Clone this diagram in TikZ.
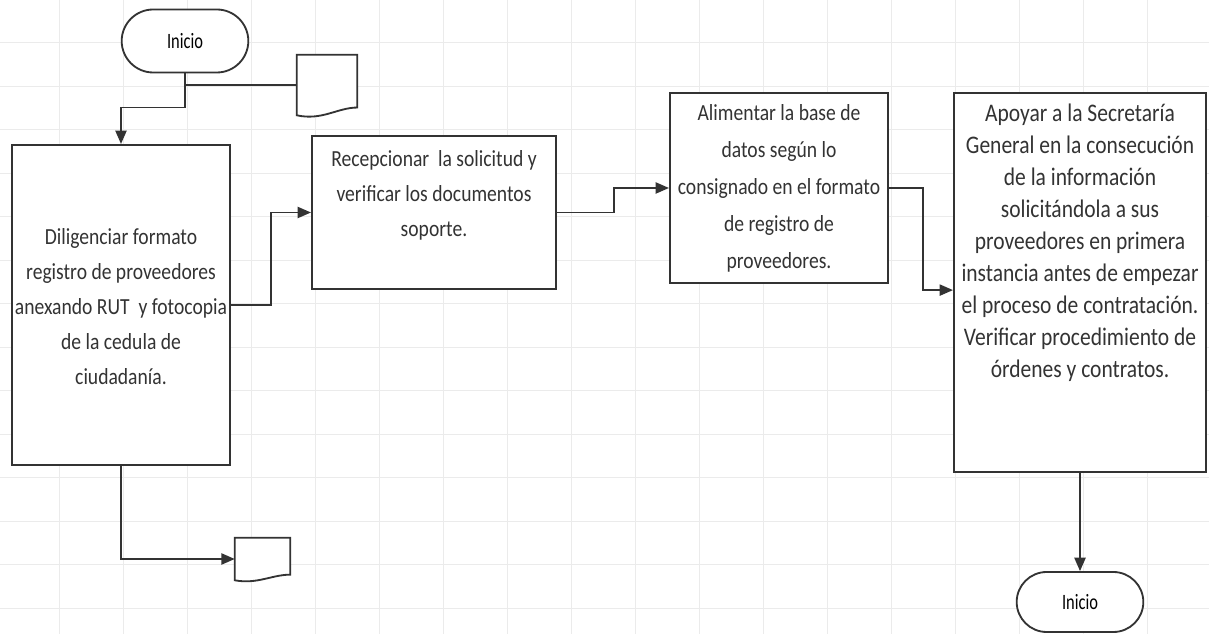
\documentclass[tikz,border=0pt]{standalone}
\usepackage{fontspec}
\setmainfont{Carlito}[FakeStretch=0.85]
\newfontfamily\inifont{Carlito}[FakeStretch=0.75]
\usetikzlibrary{arrows.meta,shapes.misc}
\definecolor{inkgray}{HTML}{333333}
\tikzset{gridline/.style={gray!16, line width=0.6pt},
  proc/.style={draw=inkgray, line width=1.5pt, fill=white, rectangle},
  term/.style={draw=inkgray, line width=1.3pt, fill=white, rounded rectangle, font=\inifont\fontsize{15.6}{18}\selectfont},
  docu/.style={minimum width=#1, inner sep=0pt},
  docline/.style={draw=inkgray, line width=1.3pt, fill=white},
  txt/.style={align=center, text=inkgray},
  conn/.style={draw=inkgray, line width=1.1pt},
  arr/.style={conn, -{Triangle[length=9.5pt,width=8pt]}}}

\begin{document}
\begin{tikzpicture}
  \useasboundingbox (0,0) rectangle (30.225,15.85);
  \fill[white] (0,0) rectangle (30.225,15.85);
  \foreach \k in {0,...,13} \draw[gridline] (0,0.65+1.0875*\k) -- (30.225,0.65+1.0875*\k);
  \foreach \k in {0,...,17} \draw[gridline] (1.475+1.6*\k,0) -- (1.475+1.6*\k,15.85);

  \node[term, minimum width=3.4cm, minimum height=1.575cm] (inicioA) at ( 4.625,14.825) {Inicio};
  \node[term, minimum width=3.4cm, minimum height=1.5cm]   (inicioB) at (27.0,   0.8  ) {Inicio};
  \node[docu=1.5cm,   minimum height=1.5cm]  (docA) at ( 8.175,13.725) {};
  \node[docu=1.375cm, minimum height=1.05cm] (docB) at ( 6.5625,1.875) {};
  \node[proc, minimum width=5.45cm, minimum height=8cm]     (boxA) at ( 3.025, 8.225) {};
  \node[proc, minimum width=6.1cm,  minimum height=3.825cm] (boxB) at (10.85, 10.5375) {};
  \node[proc, minimum width=5.45cm, minimum height=4.75cm]  (boxC) at (19.475,11.15) {};
  \node[proc, minimum width=6.3cm,  minimum height=9.475cm] (boxD) at (27.0,  8.7875) {};

  \draw[docline] (docA.north west) -- (docA.north east) -- ([yshift=5.5pt]docA.south east)
    .. controls ([xshift=-14pt,yshift=5.5pt]docA.south east) and ([xshift=18pt,yshift=-4pt]docA.south west) .. (docA.south west) -- cycle;
  \draw[docline] (docB.north west) -- (docB.north east) -- ([yshift=4pt]docB.south east)
    .. controls ([xshift=-13pt,yshift=4pt]docB.south east) and ([xshift=16pt,yshift=-3pt]docB.south west) .. (docB.south west) -- cycle;

  \node[txt, font=\fontsize{16.4}{24.9}\selectfont] (txtA) at ( 3.025, 8.175) {Diligenciar formato\\registro de proveedores\\anexando RUT\ \ y fotocopia\\de la cedula de\\ciudadanía.};
  \node[txt, font=\fontsize{16.4}{24.9}\selectfont] (txtB) at (10.85, 10.975) {Recepcionar\ \ la solicitud y\\verificar los documentos\\soporte.};
  \node[txt, font=\fontsize{16.4}{26.3}\selectfont] (txtC) at (19.475,11.1375) {Alimentar la base de\\datos según lo\\consignado en el formato\\de registro de\\proveedores.};
  \node[txt, font=\fontsize{18}{22.8}\selectfont]   (txtD) at (27.0,  9.7875) {Apoyar a la Secretaría\\General en la consecución\\de la información\\solicitándola a sus\\proveedores en primera\\instancia antes de empezar\\el proceso de contratación.\\Verificar procedimiento de\\órdenes y contratos.};

  \draw[arr] (inicioA.south) -- ++(0,-0.85) -| (boxA.north);
  \draw[conn] (inicioA.south |- docA.west) -- (docA.west);
  \draw[arr] (boxA.east) -- ++(1,0) |- (boxB.west);
  \draw[arr] (boxB.east) -- ++(1.425,0) |- (boxC.west);
  \draw[arr] (boxC.east) -- ++(0.85,0) |- ([yshift=-0.19cm]boxD.west);
  \draw[arr] (boxD.south) -- (inicioB.north);
  \draw[arr] (boxA.south) |- (docB.west);
\end{tikzpicture}
\end{document}
